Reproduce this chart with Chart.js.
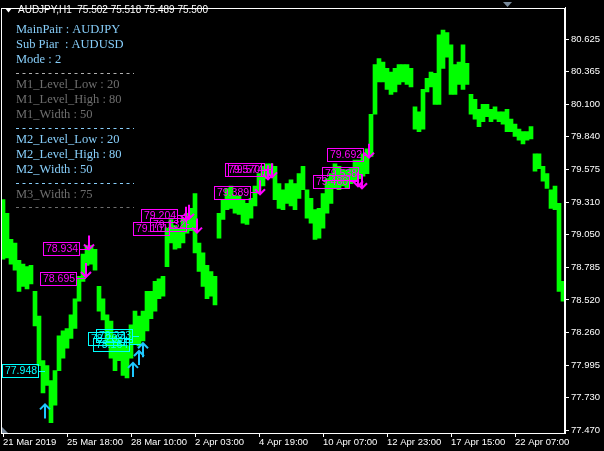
<!DOCTYPE html>
<html>
<head>
<meta charset="utf-8">
<script src="https://cdn.jsdelivr.net/npm/chart.js@4.4.1/dist/chart.umd.min.js"></script>
<style>
  html, body { margin: 0; padding: 0; background: #000; }
  canvas { display: block; }
</style>
</head>
<body>
<canvas id="chart" width="604" height="451"></canvas>
<script>
// --- DONNÉES ---
const timeLabels = ['21 Mar 2019', '25 Mar 18:00', '28 Mar 10:00', '2 Apr 03:00', '4 Apr 19:00',
  '10 Apr 07:00', '12 Apr 23:00', '17 Apr 15:00', '22 Apr 07:00'];
const priceTicks = [77.470, 77.730, 77.995, 78.260, 78.520, 78.785, 79.050, 79.310, 79.575,
  79.840, 80.100, 80.365, 80.625];

// haut / bas de chaque colonne de barres H1
const highs = [
  79.33, 79.22, 79.01, 78.98, 78.84, 78.81, 78.79, 78.80, 78.59, 78.39,
  78.03, 77.99, 77.87, 77.95, 78.23, 78.27, 78.29, 78.40, 78.53, 78.71,
  78.89, 78.96, 78.96, 78.93, 78.63, 78.53, 78.40, 78.35, 78.23, 78.20,
  78.16, 78.15, 78.32, 78.43, 78.39, 78.43, 78.59, 78.59, 78.67, 78.69,
  78.71, 79.10, 79.17, 79.12, 79.10, 79.18, 79.22, 79.26, 79.38, 78.98,
  78.90, 78.80, 78.75, 78.71, 79.22, 79.33, 79.42, 79.44, 79.36, 79.36,
  79.33, 79.30, 79.34, 79.44, 79.54, 79.60, 79.62, 79.62, 79.60, 79.46,
  79.41, 79.46, 79.49, 79.46, 79.54, 79.60, 79.41, 79.34, 79.25, 79.26,
  79.38, 79.50, 79.54, 79.62, 79.60, 79.57, 79.57, 79.58, 79.65, 79.65,
  79.70, 79.74, 80.02, 80.42, 80.47, 80.44, 80.39, 80.36, 80.39, 80.42,
  80.42, 80.42, 80.39, 80.08, 80.04, 80.22, 80.31, 80.36, 80.35, 80.66,
  80.70, 80.68, 80.58, 80.42, 80.44, 80.58, 80.43, 80.18, 80.14, 80.06,
  80.10, 80.10, 80.06, 80.08, 80.04, 80.04, 80.06, 79.98, 79.94, 79.90,
  79.88, 79.88, 79.92, 79.70, 79.70, 79.60, 79.54, 79.41, 79.44, 79.30, 78.67
];
const lows = [
  78.85, 78.86, 78.81, 78.76, 78.59, 78.63, 78.61, 78.65, 78.31, 77.99,
  77.77, 77.83, 77.53, 77.67, 77.95, 78.05, 78.13, 78.21, 78.29, 78.51,
  78.67, 78.80, 78.81, 78.76, 78.43, 78.36, 78.15, 78.05, 77.95, 78.03,
  77.91, 77.89, 78.05, 78.16, 78.15, 78.19, 78.27, 78.37, 78.43, 78.53,
  78.55, 78.79, 78.98, 78.93, 78.94, 78.98, 79.06, 79.08, 78.90, 78.75,
  78.63, 78.53, 78.55, 78.48, 79.02, 79.17, 79.25, 79.26, 79.22, 79.21,
  79.14, 79.13, 79.18, 79.28, 79.38, 79.44, 79.50, 79.53, 79.33, 79.26,
  79.25, 79.30, 79.28, 79.25, 79.34, 79.41, 79.18, 79.14, 79.01, 79.02,
  79.10, 79.22, 79.30, 79.42, 79.41, 79.44, 79.42, 79.46, 79.49, 79.50,
  79.52, 79.54, 79.68, 80.02, 80.28, 80.28, 80.22, 80.18, 80.20, 80.26,
  80.28, 80.26, 80.24, 79.90, 79.88, 79.90, 80.20, 80.24, 80.10, 80.10,
  80.39, 80.48, 80.18, 80.18, 80.26, 80.22, 80.26, 80.02, 79.98, 79.92,
  79.96, 80.00, 79.96, 79.98, 79.96, 79.94, 79.88, 79.88, 79.84, 79.81,
  79.78, 79.81, 79.82, 79.56, 79.58, 79.48, 79.42, 79.26, 79.25, 78.59, 78.51
];

// signaux de vente (magenta) : prix de l'étiquette, colonne de l'étiquette, colonne + pointe de la flèche
const sellPrice = [78.934, 78.695, 79.204, 79.132, 79.101, 79.389, 79.570, 79.574, 79.692, 79.538, 79.480];
const sellBoxCol = [10, 9.25, 34.5, 36.75, 32.5, 52.75, 55.5, 56.25, 81, 79.75, 77.5];
const sellArrowCol = [21.5, 20.75, 45.75, 46.5, 48.5, 64.25, 66.25, 67.25, 91.5, 89.75, 88.75];
const sellArrowPrice = [78.928, 78.705, 79.159, 79.175, 79.064, 79.374, 79.494, 79.510, 79.669, 79.422, 79.438];

// signaux d'achat (cyan)
const buyPrice = [77.948, 78.208, 78.233, 78.164];
const buyBoxCol = [-0.25, 21.25, 23.25, 22.5];
const buyArrowCol = [10.5, 32.5, 34, 35];
const buyArrowPrice = [77.677, 78.012, 78.108, 78.171];

// panneau d'infos en haut à gauche
const infoLines = [
  ['MainPair : AUDJPY', 'blue'], ['Sub Piar  : AUDUSD', 'blue'], ['Mode : 2', 'blue'], ['-', 'silver'],
  ['M1_Level_Low : 20', 'gray'], ['M1_Level_High : 80', 'gray'], ['M1_Width : 50', 'gray'], ['-', 'blue'],
  ['M2_Level_Low : 20', 'blue'], ['M2_Level_High : 80', 'blue'], ['M2_Width : 50', 'blue'], ['-', 'blue'],
  ['M3_Width : 75', 'gray'], ['-', 'gray']
];

const columnLabels = lows.map((_, i) => (i % 16 === 0 ? timeLabels[i / 16] : ''));
const ranges = lows.map((lo, i) => [lo, highs[i]]);

const COLORS = { blue: '#87cefa', gray: '#6e6e6e', silver: '#b0b0b0' };
const MAGENTA = '#ff00ff';
const CYAN = '#00ffff';
const CYAN_ARROW = '#1ec8ff';

function drawArrow(ctx, x, y, up, color) {
  ctx.save();
  ctx.strokeStyle = color;
  ctx.lineWidth = 2;
  ctx.beginPath();
  const d = up ? 1 : -1; // up: pointe en haut
  ctx.moveTo(x, y);
  ctx.lineTo(x, y + d * 14);
  ctx.moveTo(x - 5, y + d * 5);
  ctx.lineTo(x, y);
  ctx.lineTo(x + 5, y + d * 5);
  ctx.stroke();
  ctx.restore();
}

function drawPriceLabel(ctx, x, y, text, color, lineTo) {
  ctx.save();
  ctx.strokeStyle = color;
  ctx.lineWidth = 1;
  const bx = Math.round(x) + 0.5, by = Math.round(y - 6.5) + 0.5;
  ctx.strokeRect(bx, by, 36, 13);
  ctx.beginPath();
  ctx.moveTo(bx + 36, Math.round(y) + 0.5);
  ctx.lineTo(lineTo, Math.round(y) + 0.5);
  ctx.stroke();
  ctx.fillStyle = color;
  ctx.font = '10.5px "Liberation Sans", Arial, sans-serif';
  ctx.textAlign = 'center';
  ctx.textBaseline = 'middle';
  ctx.fillText(text, bx + 18.5, by + 7);
  ctx.restore();
}

const overlayPlugin = {
  id: 'overlay',
  afterDatasetsDraw(chart) {
    const { ctx, chartArea: a, scales: { x, y } } = chart;
    ctx.save();

    // cadre blanc
    ctx.strokeStyle = '#fff';
    ctx.lineWidth = 1;
    ctx.strokeRect(Math.round(a.left) + 0.5, Math.round(a.top) + 0.5,
      Math.round(a.right - a.left) - 1, Math.round(a.bottom - a.top));

    // étiquettes + flèches de vente
    sellPrice.forEach((p, i) => {
      const ax = x.getPixelForValue(sellArrowCol[i]);
      drawPriceLabel(ctx, x.getPixelForValue(sellBoxCol[i]), y.getPixelForValue(p), p.toFixed(3), MAGENTA, ax);
      drawArrow(ctx, ax, y.getPixelForValue(sellArrowPrice[i]), false, MAGENTA);
    });
    // étiquettes + flèches d'achat
    buyPrice.forEach((p, i) => {
      const ax = x.getPixelForValue(buyArrowCol[i]);
      drawPriceLabel(ctx, x.getPixelForValue(buyBoxCol[i]), y.getPixelForValue(p), p.toFixed(3), CYAN, ax);
      drawArrow(ctx, ax, y.getPixelForValue(buyArrowPrice[i]), true, CYAN_ARROW);
    });

    // en-tête
    ctx.fillStyle = '#fff';
    ctx.beginPath();
    ctx.moveTo(5, 8); ctx.lineTo(12, 8); ctx.lineTo(8.5, 12.5); ctx.closePath();
    ctx.fill();
    ctx.font = '10px "Liberation Sans", Arial, sans-serif';
    ctx.textBaseline = 'middle';
    ctx.textAlign = 'left';
    ctx.fillText('AUDJPY,H1  75.502 75.518 75.489 75.500', 18, 10);

    // panneau d'infos
    let ty = 30;
    const gaps = [15, 15, 13, 12, 15, 15, 13, 12, 15, 15, 13, 12, 12, 0];
    infoLines.forEach(([txt, col], i) => {
      if (txt === '-') {
        ctx.strokeStyle = COLORS[col];
        ctx.setLineDash([3, 3.5]);
        ctx.beginPath();
        ctx.moveTo(16, Math.round(ty) + 0.5);
        ctx.lineTo(134, Math.round(ty) + 0.5);
        ctx.stroke();
        ctx.setLineDash([]);
      } else {
        ctx.fillStyle = COLORS[col];
        ctx.font = '12.5px "Liberation Serif", "Times New Roman", serif';
        ctx.fillText(txt, 16, ty);
      }
      ty += gaps[i];
    });

    // petits marqueurs gris
    ctx.fillStyle = '#778899';
    ctx.beginPath();
    ctx.moveTo(503, 2); ctx.lineTo(512, 2); ctx.lineTo(507.5, 7); ctx.closePath();
    ctx.fill();
    ctx.beginPath();
    ctx.moveTo(2, a.bottom - 6); ctx.lineTo(8, a.bottom); ctx.lineTo(2, a.bottom); ctx.closePath();
    ctx.fill();

    ctx.restore();
  }
};

new Chart(document.getElementById('chart'), {
  type: 'bar',
  data: {
    labels: columnLabels,
    datasets: [{
      data: ranges,
      backgroundColor: '#00ff00',
      borderWidth: 0,
      barPercentage: 1,
      categoryPercentage: 1,
      minBarLength: 3
    }]
  },
  options: {
    responsive: false,
    animation: false,
    layout: { padding: { left: 1, top: 1, right: 0, bottom: 0 } },
    plugins: { legend: { display: false }, tooltip: { enabled: false } },
    scales: {
      x: {
        grid: {
          offset: false,
          drawOnChartArea: false,
          tickLength: 4,
          color: c => (c.index % 16 === 0 ? '#fff' : 'transparent')
        },
        border: { color: '#fff' },
        ticks: {
          autoSkip: false,
          maxRotation: 0,
          align: 'start',
          padding: 0,
          color: '#fff',
          font: { family: '"Liberation Sans", Arial, sans-serif', size: 9.5 }
        },
        afterFit: s => { s.height = 18; }
      },
      y: {
        position: 'right',
        min: 77.446,
        max: 80.880,
        afterBuildTicks: s => { s.ticks = priceTicks.map(v => ({ value: v })); },
        grid: { drawOnChartArea: false, tickLength: 4, color: '#fff' },
        border: { color: '#fff' },
        ticks: {
          padding: 2,
          color: '#fff',
          callback: v => v.toFixed(3),
          font: { family: '"Liberation Sans", Arial, sans-serif', size: 9.5 }
        },
        afterFit: s => { s.width = 39; }
      }
    }
  },
  plugins: [overlayPlugin]
});
</script>
</body>
</html>
